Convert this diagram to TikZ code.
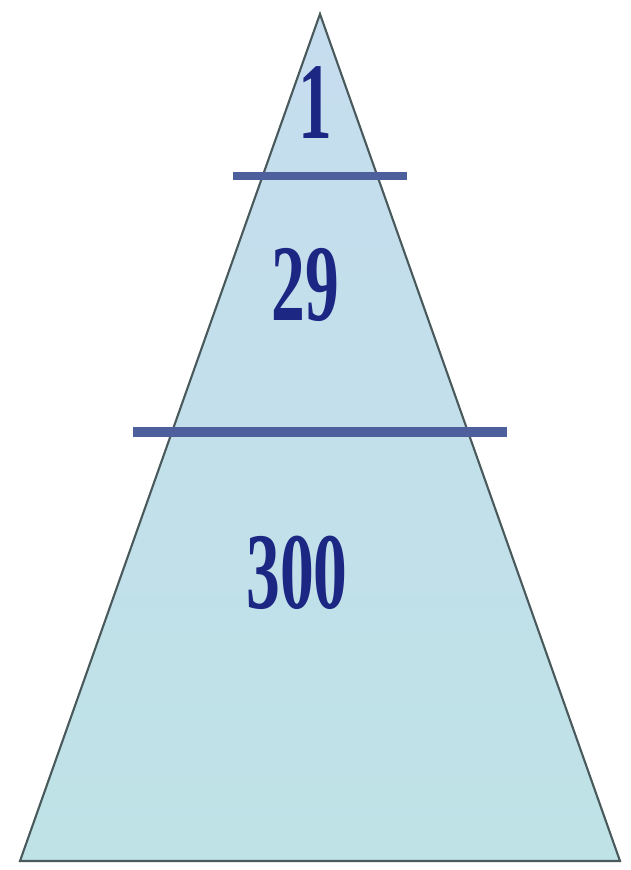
\documentclass[tikz,border=0pt]{standalone}
\usepackage{fontspec}
\setmainfont{Liberation Serif}
\definecolor{pyrfill}{HTML}{BEE2E6}
\definecolor{pyrtop}{HTML}{C6DDEF}
\definecolor{pyredge}{HTML}{4A5A5C}
\definecolor{barblue}{HTML}{4E5F9E}
\definecolor{numblue}{HTML}{1C2683}
\tikzset{
  level/.style={text=numblue, font=\bfseries\fontsize{62}{62}\selectfont, xscale=0.62, inner sep=0pt},
  bar/.style={barblue, line width=5.5pt}
}
\begin{document}
\begin{tikzpicture}
  \useasboundingbox (0,0) rectangle (12.62,17.4);
  \coordinate (apex) at (6.4,17.12);
  \coordinate (bl) at (0.4,0.18);
  \coordinate (br) at (12.4,0.18);
  \shade[top color=pyrtop, bottom color=pyrfill] (apex) -- (bl) -- (br) -- cycle;
  \draw[pyredge, line width=1.2pt, line join=miter] (apex) -- (bl) -- (br) -- cycle;
  % dividing bars
  \coordinate (b1l) at (4.66,13.88);
  \coordinate (b1r) at (8.14,13.88);
  \coordinate (b2l) at (2.66,8.76);
  \coordinate (b2r) at (10.14,8.76);
  \draw[bar, line width=4.8pt] (b1l) -- (b1r);
  \draw[bar] (b2l) -- (b2r);
  % numbers
  \node[level] (one) at (6.3,15.35) {1};
  \node[level] (twentynine) at (6.1,11.7) {29};
  \node[level] (threehundred) at (5.94,5.94) {300};
\end{tikzpicture}
\end{document}
